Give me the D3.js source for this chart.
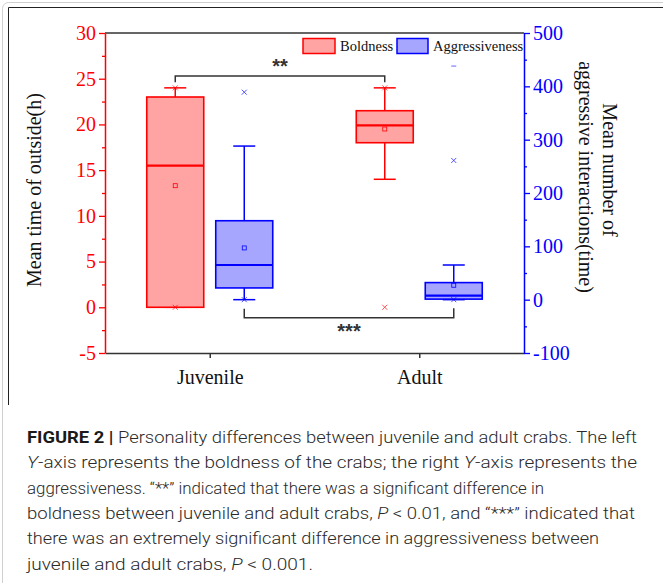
<!DOCTYPE html>
<html>
<head>
<meta charset="utf-8">
<script src="https://cdn.jsdelivr.net/npm/d3@7"></script>
<style>
  body { margin: 0; background: #fff; }
  svg { display: block; }
</style>
</head>
<body>
<div id="chart"></div>
<script>
// categories
const groups = ["Juvenile", "Adult"];

// boldness (left axis, hours)
const boldWhiskerLow  = [0, 14];
const boldQ1          = [0, 18];
const boldMedian      = [15.5, 19.9];
const boldQ3          = [23, 21.5];
const boldWhiskerHigh = [24, 24];
const boldMean        = [13.3, 19.5];
const boldCrosses     = [[0, 24], [0, 24]];
const boldDashes      = [[], []];

// aggressiveness (right axis, times)
const aggWhiskerLow  = [0, 0];
const aggQ1          = [22, 1];
const aggMedian      = [65, 7.5];
const aggQ3          = [148, 32];
const aggWhiskerHigh = [288, 65];
const aggMean        = [97, 27];
const aggCrosses     = [[0, 389], [0, 261]];
const aggDashes      = [[], [438]];

// axes
const leftTicks  = [-5, 0, 5, 10, 15, 20, 25, 30];
const rightTicks = [-100, 0, 100, 200, 300, 400, 500];

// significance brackets: [bar level, left leg end, right leg end]
const boldSig = [25.3, 24.6, 24.6];
const aggSig  = [-34, -17, -16];

// plain hyphen minus like the original figure
const fmt = v => String(v);

class BoxplotD3 {
    margin = {top: 33, right: 139, bottom: 230, left: 105};
    size = {width: 663, height: 583};
    boxOffset = 34.5;
    boxWidth = 57;
    capWidth = 22;
    serif = "'Liberation Serif', 'DejaVu Serif', serif";

    constructor(el){
        this.el = el;
    }

    create(){
        this.width = this.size.width - this.margin.left - this.margin.right;
        this.height = this.size.height - this.margin.top - this.margin.bottom;

        this.svg = d3.select(this.el).append("svg")
            .attr("width", this.size.width)
            .attr("height", this.size.height);

        // outer page border and figure frame (left/top only visible)
        this.svg.append("rect")
            .attr("x", 2.5).attr("y", 2.5)
            .attr("width", 700).attr("height", 640)
            .attr("rx", 6)
            .attr("fill", "none").attr("stroke", "#d0d0d0");
        this.svg.append("path")
            .attr("d", "M8.5,405V7.5H700")
            .attr("fill", "none").attr("stroke", "#222").attr("stroke-width", 1);

        this.g = this.svg.append("g")
            .attr("transform", "translate(" + this.margin.left + "," + this.margin.top + ")");

        this.xScale = d3.scalePoint().domain(groups).range([0, this.width]).padding(0.5);
        this.yLeft = d3.scaleLinear().domain([-5, 30]).range([this.height, 0]);
        this.yRight = d3.scaleLinear().domain([-100, 500]).range([this.height, 0]);
    }

    drawAxes(){
        const g = this.g;
        // top frame line
        g.append("line")
            .attr("x1", 0).attr("x2", this.width)
            .attr("y1", 0).attr("y2", 0)
            .attr("stroke", "#333").attr("stroke-width", 1.5);

        // bottom axis
        const xAxisG = g.append("g")
            .attr("transform", "translate(0," + this.height + ")")
            .call(d3.axisBottom(this.xScale).tickSize(5).tickPadding(12).tickSizeOuter(0));
        xAxisG.select(".domain").attr("stroke", "#333").attr("stroke-width", 1.5);
        xAxisG.selectAll(".tick line").attr("stroke", "#333").attr("stroke-width", 1.5);
        xAxisG.selectAll(".tick text")
            .attr("font-family", this.serif).attr("font-size", 20).attr("fill", "#111");

        // left axis (red)
        const minorLeft = d3.range(-2.5, 30, 5);
        g.append("g").call(d3.axisLeft(this.yLeft).tickValues(minorLeft).tickSize(3).tickFormat("").tickSizeOuter(0))
            .call(s => s.select(".domain").remove())
            .selectAll("line").attr("stroke", "red").attr("stroke-width", 1.3);
        const yl = g.append("g")
            .call(d3.axisLeft(this.yLeft).tickValues(leftTicks).tickFormat(fmt).tickSize(6).tickPadding(3).tickSizeOuter(0));
        yl.select(".domain").attr("stroke", "red").attr("stroke-width", 1.5);
        yl.selectAll(".tick line").attr("stroke", "red").attr("stroke-width", 1.3);
        yl.selectAll(".tick text")
            .attr("font-family", this.serif).attr("font-size", 20).attr("fill", "red");

        // right axis (blue)
        const minorRight = d3.range(-50, 500, 100);
        g.append("g")
            .attr("transform", "translate(" + this.width + ",0)")
            .call(d3.axisRight(this.yRight).tickValues(minorRight).tickSize(3).tickFormat("").tickSizeOuter(0))
            .call(s => s.select(".domain").remove())
            .selectAll("line").attr("stroke", "blue").attr("stroke-width", 1.3);
        const yr = g.append("g")
            .attr("transform", "translate(" + this.width + ",0)")
            .call(d3.axisRight(this.yRight).tickValues(rightTicks).tickFormat(fmt).tickSize(6).tickPadding(3).tickSizeOuter(0));
        yr.select(".domain").attr("stroke", "blue").attr("stroke-width", 1.5);
        yr.selectAll(".tick line").attr("stroke", "blue").attr("stroke-width", 1.3);
        yr.selectAll(".tick text")
            .attr("font-family", this.serif).attr("font-size", 20).attr("fill", "blue");

        // axis titles
        this.svg.append("text")
            .attr("transform", "translate(41,190) rotate(-90)")
            .attr("text-anchor", "middle")
            .attr("font-family", this.serif).attr("font-size", 20).attr("fill", "#111")
            .text("Mean time of outside(h)");
        this.svg.append("text")
            .attr("transform", "translate(603,170) rotate(90)")
            .attr("text-anchor", "middle")
            .attr("font-family", this.serif).attr("font-size", 20).attr("fill", "#111")
            .text("Mean number of");
        this.svg.append("text")
            .attr("transform", "translate(579,177) rotate(90)")
            .attr("text-anchor", "middle")
            .attr("font-family", this.serif).attr("font-size", 20).attr("fill", "#111")
            .text("aggressive interactions(time)");
    }

    drawSeries(s){
        const y = s.scale;
        const items = groups.map((grp, i) => ({
            grp, i,
            lo: s.whiskerLow[i], q1: s.q1[i], med: s.median[i], q3: s.q3[i], hi: s.whiskerHigh[i],
            mean: s.mean[i], crosses: s.crosses[i], dashes: s.dashes[i]
        }));
        const cx = d => this.xScale(d.grp) + s.side * this.boxOffset;

        const boxG = this.g.selectAll("." + s.cls)
            .data(items)
            .join("g")
            .attr("class", s.cls);

        // whiskers
        boxG.append("line")
            .attr("x1", cx).attr("x2", cx)
            .attr("y1", d => y(d.hi)).attr("y2", d => y(d.q3))
            .attr("stroke", s.stroke).attr("stroke-width", 1.5);
        boxG.append("line")
            .attr("x1", cx).attr("x2", cx)
            .attr("y1", d => y(d.lo)).attr("y2", d => y(d.q1))
            .attr("stroke", s.stroke).attr("stroke-width", 1.5);
        boxG.selectAll(".cap")
            .data(d => [d.hi, d.lo].map(v => ({v, x: cx(d)})))
            .join("line")
            .attr("class", "cap")
            .attr("x1", c => c.x - this.capWidth / 2).attr("x2", c => c.x + this.capWidth / 2)
            .attr("y1", c => y(c.v)).attr("y2", c => y(c.v))
            .attr("stroke", s.stroke).attr("stroke-width", 1.5);

        // box
        boxG.append("rect")
            .attr("x", d => cx(d) - this.boxWidth / 2)
            .attr("width", this.boxWidth)
            .attr("y", d => y(d.q3))
            .attr("height", d => y(d.q1) - y(d.q3))
            .attr("fill", s.fill)
            .attr("stroke", s.stroke).attr("stroke-width", 1.6);
        // median
        boxG.append("line")
            .attr("x1", d => cx(d) - this.boxWidth / 2).attr("x2", d => cx(d) + this.boxWidth / 2)
            .attr("y1", d => y(d.med)).attr("y2", d => y(d.med))
            .attr("stroke", s.stroke).attr("stroke-width", 2.2);
        // mean square
        boxG.append("rect")
            .attr("x", d => cx(d) - 2).attr("y", d => y(d.mean) - 2)
            .attr("width", 4).attr("height", 4)
            .attr("fill", "none").attr("stroke", s.stroke).attr("stroke-width", 0.8);
        // min/max crosses
        boxG.selectAll(".cross")
            .data(d => d.crosses.map(v => ({v, x: cx(d)})))
            .join("path")
            .attr("class", "cross")
            .attr("d", c => {
                const py = y(c.v);
                return "M" + (c.x - 2.5) + "," + (py - 2.5) + "L" + (c.x + 2.5) + "," + (py + 2.5)
                    + "M" + (c.x - 2.5) + "," + (py + 2.5) + "L" + (c.x + 2.5) + "," + (py - 2.5);
            })
            .attr("stroke", s.stroke).attr("stroke-width", 0.9).attr("opacity", 0.75);
        // percentile dashes
        boxG.selectAll(".dash")
            .data(d => d.dashes.map(v => ({v, x: cx(d)})))
            .join("line")
            .attr("class", "dash")
            .attr("x1", c => c.x - 2.5).attr("x2", c => c.x + 2.5)
            .attr("y1", c => y(c.v)).attr("y2", c => y(c.v))
            .attr("stroke", s.stroke).attr("stroke-width", 1).attr("opacity", 0.6);
    }

    drawBracket(sig, scale, side, label, labelY){
        const x1 = this.xScale(groups[0]) + side * this.boxOffset;
        const x2 = this.xScale(groups[1]) + side * this.boxOffset;
        this.g.append("path")
            .attr("d", "M" + x1 + "," + scale(sig[1]) + "V" + scale(sig[0]) + "H" + x2 + "V" + scale(sig[2]))
            .attr("fill", "none").attr("stroke", "#333").attr("stroke-width", 1.5);
        this.g.append("text")
            .attr("x", (x1 + x2) / 2).attr("y", labelY)
            .attr("text-anchor", "middle")
            .attr("font-family", "'Liberation Sans', Arial, sans-serif")
            .attr("font-size", 20).attr("font-weight", "bold").attr("fill", "#333")
            .text(label);
    }

    drawLegend(){
        const entries = [
            {label: "Boldness", fill: "#ffa3a3", stroke: "red", x: 303, w: 32},
            {label: "Aggressiveness", fill: "#a6a6ff", stroke: "blue", x: 397, w: 31}
        ];
        const lg = this.svg.selectAll(".legendItem")
            .data(entries)
            .join("g")
            .attr("class", "legendItem");
        lg.append("rect")
            .attr("x", d => d.x).attr("y", 38.5)
            .attr("width", d => d.w).attr("height", 15)
            .attr("fill", d => d.fill).attr("stroke", d => d.stroke).attr("stroke-width", 1.5);
        lg.append("text")
            .attr("x", d => d.x + d.w + 5).attr("y", 51)
            .attr("font-family", this.serif).attr("font-size", 14.5).attr("fill", "#111")
            .text(d => d.label);
    }

    drawCaption(){
        const lines = [
            {w: 610, parts: [["FIGURE 2 |", "b"], [" Personality differences between juvenile and adult crabs. The left"]]},
            {w: 610, parts: [["Y", "i"], ["-axis represents the boldness of the crabs; the right "], ["Y", "i"], ["-axis represents the"]]},
            {w: 517, parts: [["aggressiveness. \u201c**\u201d indicated that there was a significant difference in"]]},
            {w: 608, parts: [["boldness between juvenile and adult crabs, "], ["P", "i"], [" < 0.01, and \u201c***\u201d indicated that"]]},
            {w: 572, parts: [["there was an extremely significant difference in aggressiveness between"]]},
            {w: 286, parts: [["juvenile and adult crabs, "], ["P", "i"], [" < 0.001."]]}
        ];
        const cap = this.svg.append("g")
            .attr("font-family", "Roboto, 'Liberation Sans', sans-serif")
            .attr("font-size", 17).attr("font-weight", 300).attr("fill", "#2a2a2a");
        lines.forEach((ln, i) => {
            const t = cap.append("text")
                .attr("x", 27).attr("y", 443 + i * 25.3)
                .attr("textLength", ln.w).attr("lengthAdjust", "spacingAndGlyphs");
            ln.parts.forEach(p => {
                const ts = t.append("tspan").text(p[0]);
                if (p[1] === "b") ts.attr("font-weight", 700).attr("fill", "#1a1a1a");
                if (p[1] === "i") ts.attr("font-style", "italic");
            });
        });
    }

    render(){
        this.drawAxes();
        this.drawSeries({cls: "boldBox", scale: this.yLeft, side: -1, stroke: "red", fill: "#ffa3a3",
            whiskerLow: boldWhiskerLow, q1: boldQ1, median: boldMedian, q3: boldQ3, whiskerHigh: boldWhiskerHigh,
            mean: boldMean, crosses: boldCrosses, dashes: boldDashes});
        this.drawSeries({cls: "aggBox", scale: this.yRight, side: 1, stroke: "blue", fill: "#a6a6ff",
            whiskerLow: aggWhiskerLow, q1: aggQ1, median: aggMedian, q3: aggQ3, whiskerHigh: aggWhiskerHigh,
            mean: aggMean, crosses: aggCrosses, dashes: aggDashes});
        this.drawBracket(boldSig, this.yLeft, -1, "**", 40);
        this.drawBracket(aggSig, this.yRight, 1, "***", 305);
        this.drawLegend();
        this.drawCaption();
    }
}

const chart = new BoxplotD3(document.getElementById("chart"));
chart.create();
chart.render();
</script>
</body>
</html>
